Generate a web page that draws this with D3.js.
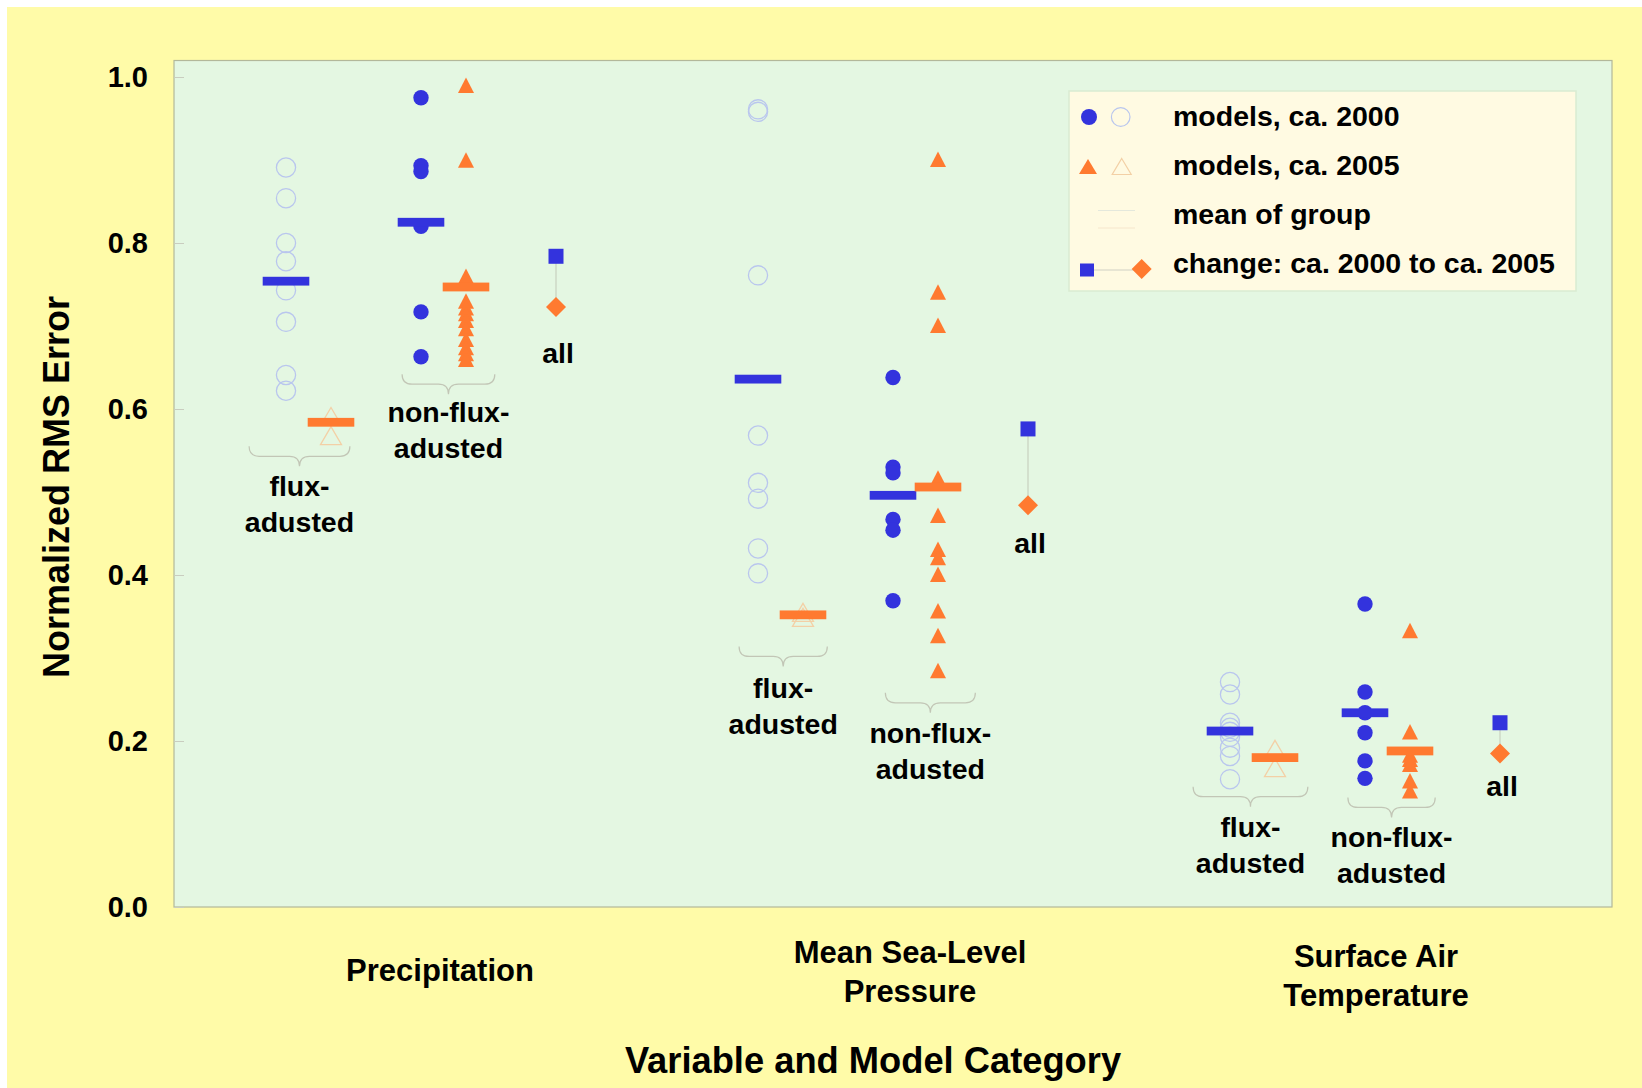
<!DOCTYPE html>
<head>
  <meta charset="utf-8">
  <style>
    body { margin: 0; background: #fff; }
    svg { display: block; font-family: "Liberation Sans", Arial, sans-serif; font-weight: bold; }
  </style>
  <script src="https://cdn.jsdelivr.net/npm/d3@7"></script>
</head>
<body>
<svg id=chart width="1642" height="1088"></svg>
<script>
// categories
const variables = ['Precipitation', 'Mean Sea-Level Pressure', 'Surface Air Temperature']
const varLabels = [['Precipitation'], ['Mean Sea-Level', 'Pressure'], ['Surface Air', 'Temperature']]

// individual models (normalized RMS error), one list per variable
const flux2000 = [
  [0.891, 0.854, 0.800, 0.778, 0.743, 0.705, 0.641, 0.622],
  [0.961, 0.958, 0.761, 0.568, 0.511, 0.492, 0.432, 0.402],
  [0.271, 0.256, 0.222, 0.216, 0.211, 0.205, 0.192, 0.182, 0.154]]
const flux2005 = [
  [0.591, 0.568],
  [0.355, 0.349],
  [0.190, 0.168]]
const nonflux2000 = [
  [0.975, 0.893, 0.886, 0.820, 0.717, 0.663],
  [0.638, 0.530, 0.523, 0.467, 0.454, 0.369],
  [0.365, 0.259, 0.234, 0.210, 0.176, 0.155]]
const nonflux2005 = [
  [0.990, 0.900, 0.760, 0.730, 0.722, 0.715, 0.707, 0.697, 0.684, 0.674, 0.667, 0.660],
  [0.901, 0.741, 0.701, 0.517, 0.472, 0.431, 0.421, 0.401, 0.357, 0.327, 0.285],
  [0.333, 0.211, 0.183, 0.178, 0.172, 0.152, 0.140]]

// group means
const meanFlux2000 = [0.754, 0.636, 0.212]
const meanFlux2005 = [0.584, 0.352, 0.180]
const meanNonflux2000 = [0.825, 0.496, 0.234]
const meanNonflux2005 = [0.747, 0.506, 0.188]

// all models, ca. 2000 -> ca. 2005
const all2000 = [0.784, 0.576, 0.222]
const all2005 = [0.723, 0.484, 0.185]

const yTicks = [0, 0.2, 0.4, 0.6, 0.8, 1.0]
const legendLabels = ['models, ca. 2000', 'models, ca. 2005', 'mean of group', 'change: ca. 2000 to ca. 2005']

const BLUE = '#3333dd', ORANGE = '#ff7a30'
const OPEN_BLUE = '#b9c6ee', OPEN_ORANGE = '#f3d0a6'

const svg = d3.select('#chart')
const W = +svg.attr('width'), H = +svg.attr('height')
const plot = { left: 174, right: 1612, top: 60.5, bottom: 907 }

const y = d3.scaleLinear().domain([0, 1]).range([907, 77])
const xVar = d3.scalePoint().domain(d3.range(variables.length)).range([286, 1230])
const xSlot = d3.scaleLinear().domain([0, 6]).range([0, 270])
const xp = (i, slot) => xVar(i) + xSlot(slot)

// backgrounds
svg.append('rect').attr('x', 7).attr('y', 7).attr('width', W - 7).attr('height', H - 7).attr('fill', '#fffba8')
svg.append('rect')
  .attr('x', plot.left).attr('y', plot.top)
  .attr('width', plot.right - plot.left).attr('height', plot.bottom - plot.top)
  .attr('fill', '#e4f7e2').attr('stroke', '#b3b89a').attr('stroke-width', 1.2)

// y axis
const yAxis = svg.append('g')
  .attr('transform', `translate(${plot.left},0)`)
  .call(d3.axisLeft(y).tickValues(yTicks).tickFormat(d3.format('.1f')).tickSizeInner(-10).tickSizeOuter(0).tickPadding(26))
yAxis.select('.domain').remove()
yAxis.selectAll('line').attr('stroke', '#c9cdbf')
yAxis.selectAll('text').attr('font-size', 29).attr('font-family', '"Liberation Sans", Arial, sans-serif').attr('font-weight', 'bold').attr('fill', '#000')

svg.append('text')
  .attr('transform', `translate(56,487) rotate(-90)`)
  .attr('text-anchor', 'middle').attr('dominant-baseline', 'central')
  .attr('font-size', 36).text('Normalized RMS Error')

svg.append('text').attr('x', 873).attr('y', 1073).attr('text-anchor', 'middle')
  .attr('font-size', 36.3).text('Variable and Model Category')

// category labels
const labelNudge = [19, 17, 11]
const labelTop = [981, 963, 967]
varLabels.forEach((lines, i) => {
  const cx = xVar(i) + xSlot(3) + labelNudge[i]
  const t = svg.append('text').attr('text-anchor', 'middle').attr('font-size', 31)
  lines.forEach((l, k) => t.append('tspan').attr('x', cx).attr('y', labelTop[i] + k * 39).text(l))
})

// marker shapes
const tri = (w, h) => `M0,${-h / 2}L${w / 2},${h / 2}L${-w / 2},${h / 2}Z`
const diamond = r => `M0,${-r}L${r},0L0,${r}L${-r},0Z`

// braces (variable, slot from, slot to, top value, labels)
const braces = [
  [0, -0.82, 1.42, 0.555, ['flux-', 'adusted']],
  [0, 2.58, 4.64, 0.642, ['non-flux-', 'adusted']],
  [1, -0.42, 1.54, 0.314, ['flux-', 'adusted']],
  [1, 2.83, 4.83, 0.258, ['non-flux-', 'adusted']],
  [2, -0.82, 1.73, 0.145, ['flux-', 'adusted']],
  [2, 2.62, 4.56, 0.132, ['non-flux-', 'adusted']]]
const braceG = svg.append('g')
braces.forEach(([i, s1, s2, v, lines], n) => {
  const x1 = xp(i, s1), x2 = xp(i, s2), xm = (x1 + x2) / 2
  const y0 = y(v), y1 = y0 + 10, y2 = y0 + 20, r = 10
  braceG.append('path')
    .attr('d', `M${x1},${y0}Q${x1},${y1} ${x1 + r},${y1}L${xm - r},${y1}Q${xm},${y1} ${xm},${y2}Q${xm},${y1} ${xm + r},${y1}L${x2 - r},${y1}Q${x2},${y1} ${x2},${y0}`)
    .attr('fill', 'none').attr('stroke', '#c2c6b6').attr('stroke-width', 1.2)
  const dy = n === 1 ? 28 : n === 2 ? 32 : 30
  const t = braceG.append('text').attr('text-anchor', 'middle').attr('font-size', 28.5)
  lines.forEach((l, k) => t.append('tspan').attr('x', xm).attr('y', y2 + dy + k * 36).text(l))
})

// points
const g = svg.append('g')
variables.forEach((_, i) => {
  g.selectAll(null).data(flux2000[i]).join('circle')
    .attr('cx', xp(i, 0)).attr('cy', d => y(d)).attr('r', 9.6)
    .attr('fill', 'none').attr('stroke', OPEN_BLUE).attr('stroke-width', 1.3)
  g.selectAll(null).data(flux2005[i]).join('path')
    .attr('transform', d => `translate(${xp(i, 1)},${y(d)})`).attr('d', tri(21, 18))
    .attr('fill', 'none').attr('stroke', OPEN_ORANGE).attr('stroke-width', 1.3)
  g.selectAll(null).data(nonflux2000[i]).join('circle')
    .attr('cx', xp(i, 3)).attr('cy', d => y(d)).attr('r', 7.7).attr('fill', BLUE)
  g.selectAll(null).data(nonflux2005[i]).join('path')
    .attr('transform', d => `translate(${xp(i, 4)},${y(d)})`).attr('d', tri(16, 15.5)).attr('fill', ORANGE)
})

// mean bars
const means = [[meanFlux2000, 0, BLUE], [meanFlux2005, 1, ORANGE], [meanNonflux2000, 3, BLUE], [meanNonflux2005, 4, ORANGE]]
means.forEach(([arr, slot, col]) => {
  g.selectAll(null).data(arr).join('rect')
    .attr('x', (d, i) => xp(i, slot) - 23.3).attr('y', d => y(d) - 4.4)
    .attr('width', 46.6).attr('height', 8.8).attr('fill', col)
})

// all models: change
const allDrop = [56, 48, 43]
variables.forEach((_, i) => {
  const x = xp(i, 6)
  g.append('line').attr('x1', x).attr('x2', x).attr('y1', y(all2000[i])).attr('y2', y(all2005[i]))
    .attr('stroke', '#c8d0c0').attr('stroke-width', 1.2)
  g.append('rect').attr('x', x - 7.5).attr('y', y(all2000[i]) - 7.5).attr('width', 15).attr('height', 15).attr('fill', BLUE)
  g.append('path').attr('transform', `translate(${x},${y(all2005[i])})`).attr('d', diamond(10)).attr('fill', ORANGE)
  g.append('text').attr('x', x + 2).attr('y', y(all2005[i]) + allDrop[i]).attr('text-anchor', 'middle').attr('font-size', 28.5).text('all')
})

// legend
const lg = svg.append('g')
lg.append('rect').attr('x', 1069).attr('y', 91).attr('width', 507).attr('height', 200)
  .attr('fill', '#fffae2').attr('stroke', '#d9ecd2').attr('stroke-width', 1.5)
const rowY = [117, 166.5, 218, 270]
const textY = [125.5, 174.8, 224, 273.3]
legendLabels.forEach((l, k) => lg.append('text').attr('x', 1173).attr('y', textY[k]).attr('font-size', 28.5).text(l))
lg.append('circle').attr('cx', 1089).attr('cy', rowY[0]).attr('r', 8).attr('fill', BLUE)
lg.append('circle').attr('cx', 1120.7).attr('cy', rowY[0]).attr('r', 9.3).attr('fill', 'none').attr('stroke', OPEN_BLUE).attr('stroke-width', 1.2)
lg.append('path').attr('transform', `translate(1088,${rowY[1]})`).attr('d', tri(18, 15)).attr('fill', ORANGE)
lg.append('path').attr('transform', `translate(1121.7,${rowY[1]})`).attr('d', tri(19, 16)).attr('fill', 'none').attr('stroke', OPEN_ORANGE).attr('stroke-width', 1.2)
lg.append('line').attr('x1', 1098).attr('x2', 1135).attr('y1', rowY[2] - 7.5).attr('y2', rowY[2] - 7.5).attr('stroke', '#e4e8dc').attr('stroke-width', 1)
lg.append('line').attr('x1', 1098).attr('x2', 1135).attr('y1', rowY[2] + 10).attr('y2', rowY[2] + 10).attr('stroke', '#f6e6cc').attr('stroke-width', 1)
lg.append('line').attr('x1', 1087).attr('x2', 1141.7).attr('y1', rowY[3]).attr('y2', rowY[3]).attr('stroke', '#d0d0c4').attr('stroke-width', 1)
lg.append('rect').attr('x', 1080).attr('y', rowY[3] - 6.5).attr('width', 14).attr('height', 13).attr('fill', BLUE)
lg.append('path').attr('transform', `translate(1141.7,${rowY[3] - 1})`).attr('d', diamond(10)).attr('fill', ORANGE)
</script>
</body>
